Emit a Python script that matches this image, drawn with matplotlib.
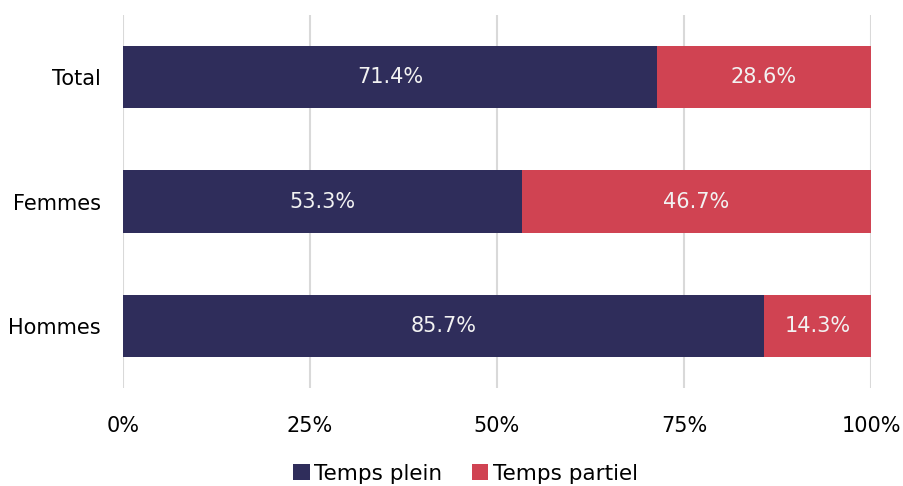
import matplotlib.pyplot as plt
import numpy as np

# DATA
categories = ["Hommes", "Femmes", "Total"]
temps_plein = [85.7, 53.3, 71.4]
temps_partiel = [14.3, 46.7, 28.6]
xticks = [0, 25, 50, 75, 100]

navy = "#2F2D5B"
red = "#D04352"

plt.rcParams["font.family"] = ["DejaVu Sans"]

fig = plt.figure(figsize=(9.04, 4.86), dpi=100)
ax = fig.add_axes([0.136, 0.2016, 0.8275, 0.7675])

y = np.arange(len(categories))
b1 = ax.barh(y, temps_plein, height=0.5, color=navy, label="Temps plein", zorder=3)
b2 = ax.barh(y, temps_partiel, left=temps_plein, height=0.5, color=red,
             label="Temps partiel", zorder=3)

for bars, vals in [(b1, temps_plein), (b2, temps_partiel)]:
    for bar, v in zip(bars, vals):
        cx = bar.get_x() + bar.get_width() / 2
        cy = bar.get_y() + bar.get_height() / 2
        ax.text(cx, cy, f"{v:.1f}%", ha="center", va="center",
                color="#F2F2F2", fontsize=15, zorder=4)

ax.set_xlim(0, 100)
ax.set_ylim(-0.5, 2.5)
ax.set_yticks(y)
ax.set_yticklabels(categories, fontsize=15)
ax.set_xticks(xticks)
ax.set_xticklabels([f"{t}%" for t in xticks], fontsize=15)
ax.tick_params(length=0)
ax.tick_params(axis="x", pad=20)
ax.tick_params(axis="y", pad=16)
ax.grid(axis="x", color="#D9D9D9", linewidth=1.5, zorder=0)
for s in ax.spines.values():
    s.set_visible(False)

fig.legend(handles=[b1, b2], loc="lower center", bbox_to_anchor=(0.515, -0.035),
           ncol=2, frameon=False, fontsize=15.5, handlelength=0.75,
           handleheight=0.75, handletextpad=0.2, columnspacing=1.4)

fig.savefig("out.png", dpi=100)
